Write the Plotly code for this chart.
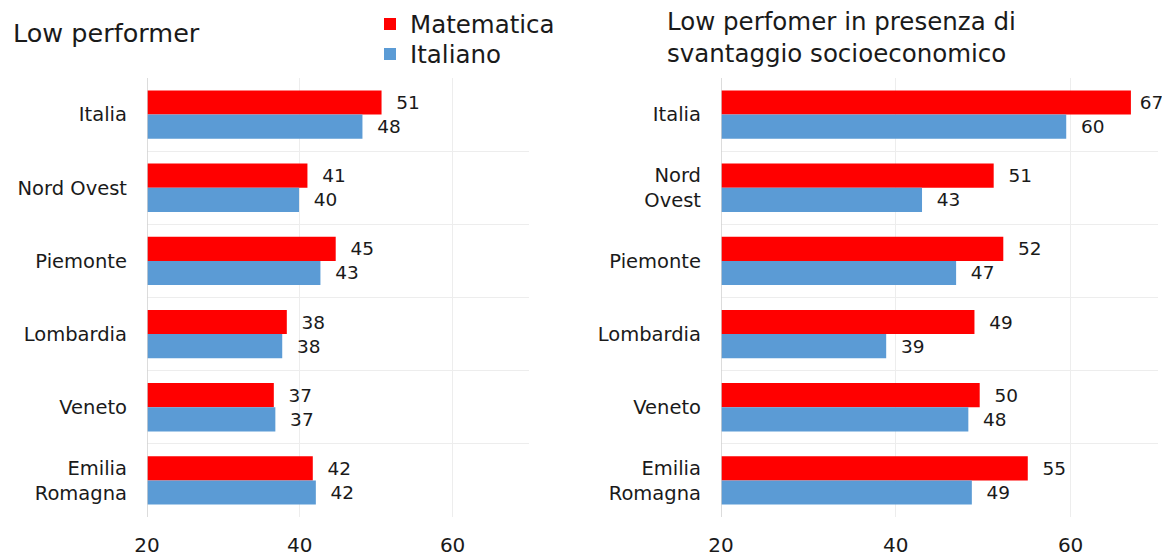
import plotly.graph_objects as go

categories_left = ["Italia", "Nord Ovest", "Piemonte", "Lombardia", "Veneto", "Emilia<br>Romagna"]
categories_right = ["Italia", "Nord<br>Ovest", "Piemonte", "Lombardia", "Veneto", "Emilia<br>Romagna"]

mat_left = [50.7, 41.0, 44.7, 38.3, 36.6, 41.7]
ita_left = [48.2, 39.9, 42.7, 37.7, 36.8, 42.1]
mat_right = [66.9, 51.2, 52.3, 49.0, 49.6, 55.1]
ita_right = [59.5, 43.0, 46.9, 38.9, 48.3, 48.7]

series_names = ["Matematica", "Italiano"]
colors = ["#FF0000", "#5B9BD5"]
x_ticks = [20, 40, 60]

FONT = "DejaVu Sans"
TXT = "#1a1a1a"
W, H = 1162, 548   # page has an 8px body margin


def px(x):
    return (x - 8) / W


def py(y):
    return 1 - (y - 8) / H


fig = go.Figure()


def add(vals, cats, name, color, xa, ya, show, leg):
    fig.add_trace(go.Bar(
        y=cats, x=vals, orientation="h", name=name,
        marker=dict(color=color, line=dict(width=0)),
        text=["  " + str(round(v)) if v < 60 else " " + str(round(v)) for v in vals],
        textposition="outside", cliponaxis=False,
        textfont=dict(size=18.5, color=TXT, family=FONT),
        xaxis=xa, yaxis=ya, showlegend=show, legend=leg,
    ))


add(mat_left, categories_left, series_names[0], colors[0], "x", "y", True, "legend")
add(ita_left, categories_left, series_names[1], colors[1], "x", "y", True, "legend2")
add(mat_right, categories_right, series_names[0], colors[0], "x2", "y2", False, "legend")
add(ita_right, categories_right, series_names[1], colors[1], "x2", "y2", False, "legend2")

xcommon = dict(range=[20, 70], tickvals=x_ticks, showgrid=True, gridcolor="#EDEDED",
               gridwidth=1, zeroline=False, showline=False,
               tickfont=dict(size=20, color=TXT, family=FONT),
               ticklabelstandoff=14, automargin=False, fixedrange=True)
ycommon = dict(autorange="reversed", type="category", tickson="boundaries",
               showgrid=True, gridcolor="#EDEDED", gridwidth=1,
               showline=False, ticks="",
               tickfont=dict(size=19.5, color=TXT, family=FONT),
               ticklabelstandoff=19, automargin=False)

legcommon = dict(xanchor="left", yanchor="middle",
                 font=dict(size=24.5, color=TXT, family=FONT),
                 itemwidth=30, bgcolor="rgba(0,0,0,0)")

fig.update_layout(
    width=W, height=H,
    margin=dict(l=0, r=0, t=0, b=0, autoexpand=False),
    paper_bgcolor="white", plot_bgcolor="white",
    barmode="group", bargap=0.34, bargroupgap=0,
    xaxis=dict(domain=[px(147), px(529)], anchor="y", **xcommon),
    yaxis=dict(domain=[py(517), py(78)], anchor="x", **ycommon),
    xaxis2=dict(domain=[px(721), px(1158)], anchor="y2", **xcommon),
    yaxis2=dict(domain=[py(517), py(78)], anchor="x2", **ycommon),
    legend=dict(x=px(370), y=py(24), **legcommon),
    legend2=dict(x=px(370), y=py(54), **legcommon),
    showlegend=True,
    font=dict(family=FONT),
)

# axis lines at x=20
for xa, ya in (("x", "y"), ("x2", "y2")):
    fig.add_shape(type="line", xref=xa, yref=ya + " domain", x0=20, x1=20, y0=0, y1=1,
                  line=dict(color="#D0D0D0", width=1.5))

fig.add_annotation(text="Low performer", xref="paper", yref="paper",
                   x=px(11), y=py(33), xanchor="left", yanchor="middle",
                   showarrow=False, font=dict(size=25.5, color=TXT, family=FONT))
fig.add_annotation(text="Low perfomer in presenza di<br>svantaggio socioeconomico",
                   xref="paper", yref="paper", x=px(665), y=py(37),
                   xanchor="left", yanchor="middle", align="left",
                   showarrow=False, font=dict(size=24.5, color=TXT, family=FONT))

fig.write_html("out.html")
